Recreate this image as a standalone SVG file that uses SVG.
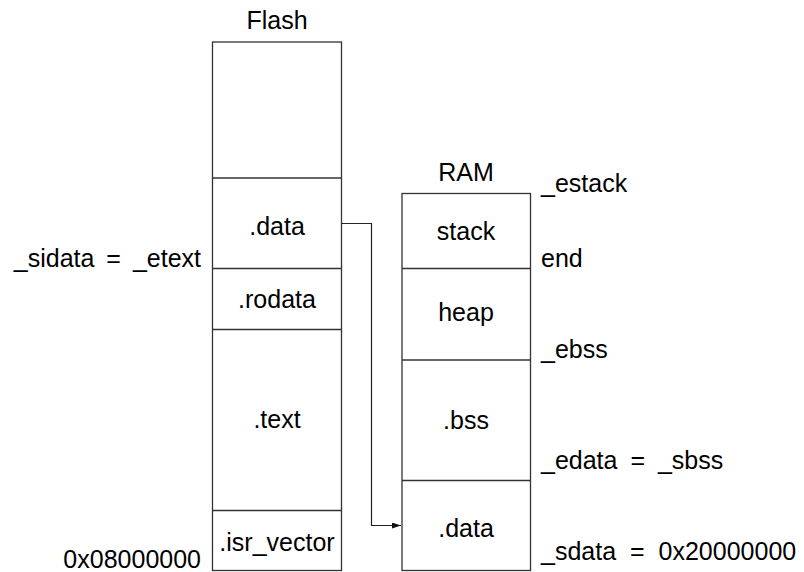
<svg xmlns="http://www.w3.org/2000/svg" width="804" height="572" viewBox="0 0 804 572">
<style>
text{font-family:"Liberation Sans","DejaVu Sans",sans-serif;font-size:25px;fill:#000}
.c{text-anchor:middle}
.e{text-anchor:end}
.box{fill:#fff;stroke:#333;stroke-width:1.3}
.div{stroke:#333;stroke-width:1.3}
.conn{fill:none;stroke:#222;stroke-width:1.2}
</style>
<defs>
<marker id="ah" markerWidth="10" markerHeight="8" refX="9" refY="3" orient="auto" markerUnits="userSpaceOnUse">
<path d="M0,0 L9,3 L0,6 Z" fill="#111"/>
</marker>
</defs>
<rect width="804" height="572" fill="#fff"/>
<g id="flash">
<text class="c" x="277" y="29">Flash</text>
<rect class="box" x="212.5" y="42" width="129" height="528.5"/>
<line class="div" x1="212.5" y1="178" x2="341.5" y2="178"/>
<line class="div" x1="212.5" y1="268.5" x2="341.5" y2="268.5"/>
<line class="div" x1="212.5" y1="329.5" x2="341.5" y2="329.5"/>
<line class="div" x1="212.5" y1="510.5" x2="341.5" y2="510.5"/>
<text class="c" x="277" y="235">.data</text>
<text class="c" x="277" y="308">.rodata</text>
<text class="c" x="277" y="428">.text</text>
<text class="c" x="277" y="551">.isr_vector</text>
</g>
<g id="flash-labels">
<text class="e" x="201" y="267" word-spacing="5">_sidata = _etext</text>
<text class="e" x="201" y="568">0x08000000</text>
</g>
<g id="ram">
<text class="c" x="466" y="181">RAM</text>
<rect class="box" x="402" y="193.5" width="128.5" height="377"/>
<line class="div" x1="402" y1="268.5" x2="530.5" y2="268.5"/>
<line class="div" x1="402" y1="360" x2="530.5" y2="360"/>
<line class="div" x1="402" y1="480.5" x2="530.5" y2="480.5"/>
<text class="c" x="466" y="240">stack</text>
<text class="c" x="466" y="321">heap</text>
<text class="c" x="466" y="429">.bss</text>
<text class="c" x="466" y="537">.data</text>
</g>
<g id="ram-labels">
<text x="541" y="192">_estack</text>
<text x="541" y="267">end</text>
<text x="541" y="358">_ebss</text>
<text x="541" y="469" word-spacing="6">_edata = _sbss</text>
<text x="541" y="560" word-spacing="7">_sdata = 0x20000000</text>
</g>
<g id="connectors">
<polyline class="conn" points="341.5,223.5 371.5,223.5 371.5,525.5 401,525.5" marker-end="url(#ah)"/>
</g>
</svg>
